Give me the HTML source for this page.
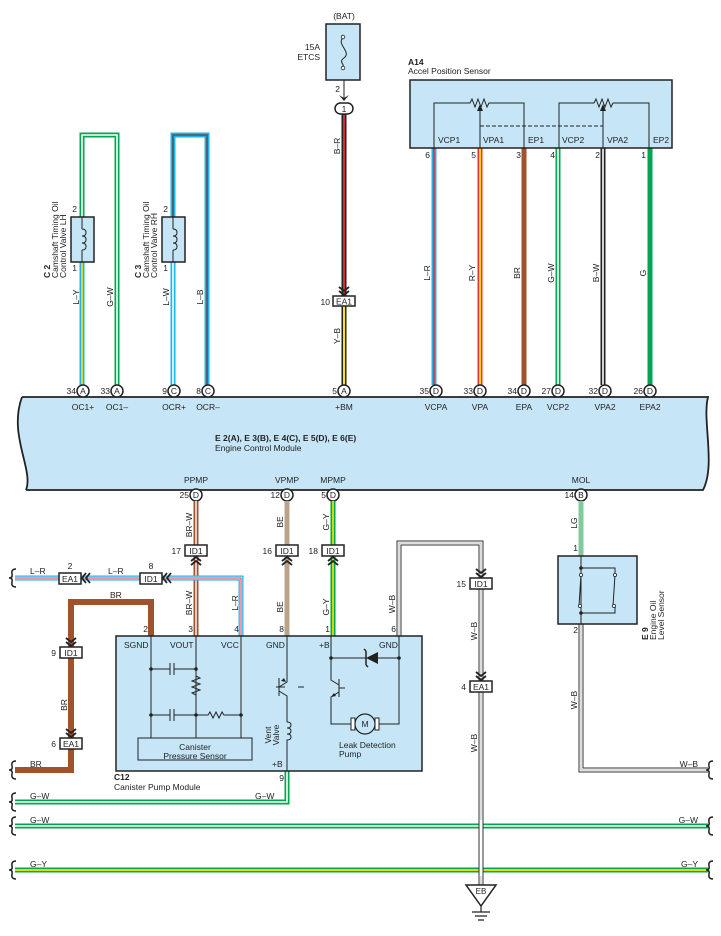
<!DOCTYPE html>
<html><head><meta charset="utf-8"><style>
html,body{margin:0;padding:0;background:#fff;}
svg{display:block;font-family:"Liberation Sans",sans-serif;}
text{font-size:8.5px;fill:#222;}
.b{font-weight:bold;}
.c{text-anchor:middle;}
.r{text-anchor:end;}
</style></head><body>
<svg width="721" height="936" viewBox="0 0 721 936" xmlns="http://www.w3.org/2000/svg">
<defs>
<g id="chD"><path d="M-5,-9 L0,-5 L5,-9 M-5,-5 L0,-1 L5,-5" fill="none" stroke="#222" stroke-width="1.8"/></g>
<g id="chU"><path d="M-5,9 L0,5 L5,9 M-5,5 L0,1 L5,5" fill="none" stroke="#222" stroke-width="1.8"/></g>
<g id="chL"><path d="M9,-5 L5,0 L9,5 M5,-5 L1,0 L5,5" fill="none" stroke="#222" stroke-width="1.8"/></g>
<path id="sq" d="M4,-9 Q-1,-9 0,-4 Q1,0 -3,0 Q1,0 0,4 Q-1,9 4,9" fill="none" stroke="#222" stroke-width="1.5"/>
</defs>

<!-- ===== Top wires ===== -->
<g fill="none" stroke-linejoin="miter">
<!-- C2 loop G-W -->
<polyline points="117,385 117,135 82,135 82,217" stroke="#00a651" stroke-width="5"/>
<polyline points="117,385 117,135 82,135 82,217" stroke="#fff" stroke-width="1.6"/>
<!-- C2 L-Y -->
<line x1="82" y1="262" x2="82" y2="385" stroke="#1fb3ec" stroke-width="5"/>
<line x1="82" y1="262" x2="82" y2="385" stroke="#ffe600" stroke-width="1.6"/>
<!-- C3 loop L-B -->
<polyline points="207,385 207,135 173,135 173,217" stroke="#1fb3ec" stroke-width="5"/>
<polyline points="207,385 207,135 173,135 173,217" stroke="#555" stroke-width="1.6"/>
<!-- C3 L-W -->
<line x1="173" y1="262" x2="173" y2="385" stroke="#1fb3ec" stroke-width="5"/>
<line x1="173" y1="262" x2="173" y2="385" stroke="#fff" stroke-width="1.6"/>
<!-- B-R -->
<line x1="344" y1="113" x2="344" y2="296" stroke="#222" stroke-width="5"/>
<line x1="344" y1="113" x2="344" y2="296" stroke="#e8303a" stroke-width="1.8"/>
<!-- Y-B -->
<line x1="344" y1="306" x2="344" y2="385" stroke="#222" stroke-width="5"/>
<line x1="344" y1="306" x2="344" y2="385" stroke="#ffe600" stroke-width="2"/>
<!-- A14 wires -->
<line x1="434" y1="148" x2="434" y2="385" stroke="#1fb3ec" stroke-width="5"/>
<line x1="434" y1="148" x2="434" y2="385" stroke="#e8303a" stroke-width="1.6"/>
<line x1="480" y1="148" x2="480" y2="385" stroke="#e8303a" stroke-width="5"/>
<line x1="480" y1="148" x2="480" y2="385" stroke="#ffe600" stroke-width="1.8"/>
<line x1="524" y1="148" x2="524" y2="385" stroke="#a0522d" stroke-width="5"/>
<line x1="558" y1="148" x2="558" y2="385" stroke="#00a651" stroke-width="5"/>
<line x1="558" y1="148" x2="558" y2="385" stroke="#fff" stroke-width="1.6"/>
<line x1="603" y1="148" x2="603" y2="385" stroke="#222" stroke-width="5"/>
<line x1="603" y1="148" x2="603" y2="385" stroke="#fff" stroke-width="1.6"/>
<line x1="650" y1="148" x2="650" y2="385" stroke="#00a651" stroke-width="5"/>
</g>

<!-- C2 / C3 coil boxes -->
<g stroke="#222" stroke-width="1.5">
<rect x="71" y="217" width="23" height="45" fill="#c6e6f7"/>
<rect x="162" y="217" width="23" height="45" fill="#c6e6f7"/>
</g>
<g fill="none" stroke="#222" stroke-width="1">
<path d="M82,217 V229 M82,250 V262 M82,229 q4,0 4,3.5 q0,3.5 -4,3.5 q4,0 4,3.5 q0,3.5 -4,3.5 q4,0 4,3.5 q0,3.5 -4,3.5"/>
<path d="M173,217 V229 M173,250 V262 M173,229 q4,0 4,3.5 q0,3.5 -4,3.5 q4,0 4,3.5 q0,3.5 -4,3.5 q4,0 4,3.5 q0,3.5 -4,3.5"/>
</g>
<text x="77" y="212" class="r">2</text><text x="77" y="271" class="r">1</text>
<text x="168" y="212" class="r">2</text><text x="168" y="271" class="r">1</text>
<g transform="translate(50,278) rotate(-90)"><text class="b">C 2</text></g>
<g transform="translate(58,278) rotate(-90)"><text>Camshaft Timing Oil</text></g>
<g transform="translate(66,278) rotate(-90)"><text>Control Valve LH</text></g>
<g transform="translate(141,278) rotate(-90)"><text class="b">C 3</text></g>
<g transform="translate(149,278) rotate(-90)"><text>Camshaft Timing Oil</text></g>
<g transform="translate(157,278) rotate(-90)"><text>Control Valve RH</text></g>
<g transform="translate(79,297) rotate(-90)"><text class="c">L–Y</text></g>
<g transform="translate(113,297) rotate(-90)"><text class="c">G–W</text></g>
<g transform="translate(169,297) rotate(-90)"><text class="c">L–W</text></g>
<g transform="translate(203,297) rotate(-90)"><text class="c">L–B</text></g>

<!-- BAT fuse -->
<text x="344" y="19" class="c">(BAT)</text>
<rect x="326" y="24" width="34" height="56" fill="#c6e6f7" stroke="#222" stroke-width="1.5"/>
<path d="M343,38 C336,44 352,52 344,58 C338,62 345,64 343,67" fill="none" stroke="#222" stroke-width="1"/>
<circle cx="343" cy="37" r="1.8" fill="#fff" stroke="#222" stroke-width="0.8"/>
<circle cx="343" cy="68" r="1.8" fill="#fff" stroke="#222" stroke-width="0.8"/>
<text x="320" y="50" class="r">15A</text><text x="320" y="60" class="r">ETCS</text>
<line x1="344" y1="80" x2="344" y2="100" stroke="#222" stroke-width="1"/>
<path d="M339,95 L344,101 L349,95 L344,98 Z" fill="#222"/>
<text x="340" y="92" class="r">2</text>
<rect x="335" y="103" width="18" height="11" rx="5.5" fill="#fff" stroke="#222" stroke-width="1.5"/>
<text x="344" y="112" class="c">1</text>
<g transform="translate(340,146) rotate(-90)"><text class="c">B–R</text></g>
<use href="#chD" x="344" y="296"/>
<rect x="333" y="296" width="22" height="10" fill="#fff" stroke="#222" stroke-width="1.5"/>
<text x="344" y="304.5" class="c">EA1</text>
<text x="330" y="305" class="r">10</text>
<g transform="translate(340,336) rotate(-90)"><text class="c">Y–B</text></g>

<!-- A14 -->
<text x="408" y="65" class="b">A14</text>
<text x="408" y="74">Accel Position Sensor</text>
<rect x="410" y="80" width="262" height="68" fill="#c6e6f7" stroke="#222" stroke-width="1.5"/>
<g fill="none" stroke="#222" stroke-width="1">
<path d="M434,148 V103 H470 l2,-4 l3,8 l3,-8 l3,8 l3,-8 l3,8 l2,-4 H524 V148"/>
<path d="M480,148 V108"/>
<path d="M559,148 V103 H594 l2,-4 l3,8 l3,-8 l3,8 l3,-8 l3,8 l2,-4 H649 V148"/>
<path d="M603,148 V108"/>
<path d="M480,126 H603" stroke-dasharray="4,2"/>
</g>
<path d="M477,111 L480,104 L483,111 Z M600,111 L603,104 L606,111 Z" fill="#222"/>
<text x="438" y="143">VCP1</text><text x="483" y="143">VPA1</text><text x="528" y="143">EP1</text>
<text x="562" y="143">VCP2</text><text x="607" y="143">VPA2</text><text x="653" y="143">EP2</text>
<text x="430" y="158" class="r">6</text><text x="476" y="158" class="r">5</text><text x="521" y="158" class="r">3</text>
<text x="555" y="158" class="r">4</text><text x="600" y="158" class="r">2</text><text x="646" y="158" class="r">1</text>
<g transform="translate(430,273) rotate(-90)"><text class="c">L–R</text></g>
<g transform="translate(475,273) rotate(-90)"><text class="c">R–Y</text></g>
<g transform="translate(520,273) rotate(-90)"><text class="c">BR</text></g>
<g transform="translate(554,273) rotate(-90)"><text class="c">G–W</text></g>
<g transform="translate(599,273) rotate(-90)"><text class="c">B–W</text></g>
<g transform="translate(646,273) rotate(-90)"><text class="c">G</text></g>

<!-- ECM -->
<path d="M22,397 H708 C702,420 716,465 703,490 H26 C34,470 8,435 22,397 Z" fill="#c6e6f7" stroke="none"/>
<path d="M22,397 H708 C702,420 716,465 703,490 H26 M22,397 C8,435 34,470 26,490" fill="none" stroke="#222" stroke-width="1.8"/>
<g stroke="#222" stroke-width="1.5" fill="#fff">
<circle cx="83" cy="391" r="6"/><circle cx="117" cy="391" r="6"/><circle cx="174" cy="391" r="6"/><circle cx="208" cy="391" r="6"/>
<circle cx="344" cy="391" r="6"/><circle cx="436" cy="391" r="6"/><circle cx="480" cy="391" r="6"/><circle cx="524" cy="391" r="6"/>
<circle cx="558" cy="391" r="6"/><circle cx="605" cy="391" r="6"/><circle cx="650" cy="391" r="6"/>
<circle cx="196" cy="495" r="6"/><circle cx="287" cy="495" r="6"/><circle cx="333" cy="495" r="6"/><circle cx="581" cy="495" r="6"/>
</g>
<g class="c" style="font-size:8px">
<text x="83" y="394" class="c">A</text><text x="117" y="394" class="c">A</text><text x="174" y="394" class="c">C</text><text x="208" y="394" class="c">C</text>
<text x="344" y="394" class="c">A</text><text x="436" y="394" class="c">D</text><text x="480" y="394" class="c">D</text><text x="524" y="394" class="c">D</text>
<text x="558" y="394" class="c">D</text><text x="605" y="394" class="c">D</text><text x="650" y="394" class="c">D</text>
<text x="196" y="498" class="c">D</text><text x="287" y="498" class="c">D</text><text x="333" y="498" class="c">D</text><text x="581" y="498" class="c">B</text>
</g>
<text x="76" y="394" class="r">34</text><text x="110" y="394" class="r">33</text><text x="167" y="394" class="r">9</text><text x="201" y="394" class="r">8</text>
<text x="337" y="394" class="r">5</text><text x="429" y="394" class="r">35</text><text x="473" y="394" class="r">33</text><text x="517" y="394" class="r">34</text>
<text x="551" y="394" class="r">27</text><text x="598" y="394" class="r">32</text><text x="643" y="394" class="r">26</text>
<text x="189" y="498" class="r">25</text><text x="280" y="498" class="r">12</text><text x="326" y="498" class="r">5</text><text x="574" y="498" class="r">14</text>
<text x="83" y="410" class="c">OC1+</text><text x="117" y="410" class="c">OC1–</text><text x="174" y="410" class="c">OCR+</text><text x="208" y="410" class="c">OCR–</text>
<text x="344" y="410" class="c">+BM</text><text x="436" y="410" class="c">VCPA</text><text x="480" y="410" class="c">VPA</text><text x="524" y="410" class="c">EPA</text>
<text x="558" y="410" class="c">VCP2</text><text x="605" y="410" class="c">VPA2</text><text x="650" y="410" class="c">EPA2</text>
<text x="215" y="441" class="b">E 2(A), E 3(B), E 4(C), E 5(D), E 6(E)</text>
<text x="215" y="451">Engine Control Module</text>
<text x="196" y="483" class="c">PPMP</text><text x="287" y="483" class="c">VPMP</text><text x="333" y="483" class="c">MPMP</text><text x="581" y="483" class="c">MOL</text>

<!-- ===== Bottom wires ===== -->
<g fill="none">
<!-- BR-W -->
<line x1="196" y1="501" x2="196" y2="636" stroke="#a0522d" stroke-width="5"/>
<line x1="196" y1="501" x2="196" y2="636" stroke="#fff" stroke-width="1.4"/>
<!-- BE -->
<line x1="287" y1="501" x2="287" y2="636" stroke="#b9a48b" stroke-width="5"/>
<!-- G-Y -->
<line x1="333" y1="501" x2="333" y2="636" stroke="#00a651" stroke-width="5"/>
<line x1="333" y1="501" x2="333" y2="636" stroke="#ffe600" stroke-width="1.6"/>
<!-- L-R -->
<polyline points="241,636 241,578 15,578" stroke="#1fb3ec" stroke-width="5"/>
<polyline points="241,636 241,578 15,578" stroke="#fff" stroke-width="2.4"/>
<polyline points="241,636 241,578 15,578" stroke="#e8303a" stroke-width="1"/>
<!-- BR thick -->
<polyline points="151,636 151,602 71,602 71,770 15,770" stroke="#a0522d" stroke-width="6"/>
<!-- W-B from C12 GND -->
<polyline points="399,636 399,543 481,543 481,885" stroke="#333" stroke-width="5"/>
<polyline points="399,636 399,543 481,543 481,885" stroke="#fff" stroke-width="3"/>
<polyline points="399,636 399,543 481,543 481,885" stroke="#aaa" stroke-width="0.8"/>
<!-- G-W from pin 9 -->
<polyline points="287,771 287,802 15,802" stroke="#00a651" stroke-width="5"/>
<polyline points="287,771 287,802 15,802" stroke="#fff" stroke-width="1.6"/>
<!-- G-W long -->
<line x1="15" y1="826" x2="708" y2="826" stroke="#00a651" stroke-width="5"/>
<line x1="15" y1="826" x2="708" y2="826" stroke="#fff" stroke-width="1.6"/>
<!-- G-Y long -->
<line x1="15" y1="870" x2="708" y2="870" stroke="#00a651" stroke-width="5"/>
<line x1="15" y1="870" x2="708" y2="870" stroke="#ffe600" stroke-width="1.8"/>
<!-- LG -->
<line x1="581" y1="501" x2="581" y2="556" stroke="#7fcc9a" stroke-width="5"/>
<!-- W-B E9 -->
<polyline points="581,624 581,770 708,770" stroke="#333" stroke-width="5"/>
<polyline points="581,624 581,770 708,770" stroke="#fff" stroke-width="3"/>
<polyline points="581,624 581,770 708,770" stroke="#aaa" stroke-width="0.8"/>
</g>
<!-- redraw W-B vertical over horizontal lines -->
<line x1="481" y1="820" x2="481" y2="876" stroke="#333" stroke-width="5"/>
<line x1="481" y1="820" x2="481" y2="876" stroke="#fff" stroke-width="3"/>

<!-- squiggles -->
<use href="#sq" x="12" y="578"/><use href="#sq" x="12" y="770"/><use href="#sq" x="12" y="802"/>
<use href="#sq" x="12" y="826"/><use href="#sq" x="12" y="870"/>
<use href="#sq" x="709" y="770"/><use href="#sq" x="709" y="826"/><use href="#sq" x="709" y="870"/>

<!-- ID1 / EA1 connectors -->
<g stroke="#222" stroke-width="1.5" fill="#fff">
<rect x="185" y="545" width="22" height="11"/><rect x="276" y="545" width="22" height="11"/><rect x="322" y="545" width="22" height="11"/>
<rect x="140" y="573" width="22" height="11"/><rect x="59" y="573" width="22" height="11"/>
<rect x="60" y="647" width="22" height="11"/><rect x="60" y="738" width="22" height="11"/>
<rect x="470" y="578" width="22" height="11"/><rect x="470" y="681" width="22" height="11"/>
</g>
<text x="196" y="554" class="c">ID1</text><text x="287" y="554" class="c">ID1</text><text x="333" y="554" class="c">ID1</text>
<text x="151" y="582" class="c">ID1</text><text x="70" y="582" class="c">EA1</text>
<text x="71" y="656" class="c">ID1</text><text x="71" y="747" class="c">EA1</text>
<text x="481" y="587" class="c">ID1</text><text x="481" y="690" class="c">EA1</text>
<text x="181" y="554" class="r">17</text><text x="272" y="554" class="r">16</text><text x="318" y="554" class="r">18</text>
<text x="151" y="569" class="c">8</text><text x="70" y="569" class="c">2</text>
<text x="56" y="656" class="r">9</text><text x="56" y="747" class="r">6</text>
<text x="466" y="587" class="r">15</text><text x="466" y="690" class="r">4</text>
<use href="#chU" x="196" y="556"/><use href="#chU" x="287" y="556"/><use href="#chU" x="333" y="556"/>
<use href="#chL" x="162" y="578"/><use href="#chL" x="81" y="578"/>
<use href="#chD" x="71" y="647"/><use href="#chD" x="71" y="738"/>
<use href="#chD" x="481" y="578"/><use href="#chD" x="481" y="681"/>

<!-- wire labels bottom -->
<g transform="translate(192,525) rotate(-90)"><text class="c">BR–W</text></g>
<g transform="translate(192,603) rotate(-90)"><text class="c">BR–W</text></g>
<g transform="translate(283,522) rotate(-90)"><text class="c">BE</text></g>
<g transform="translate(283,607) rotate(-90)"><text class="c">BE</text></g>
<g transform="translate(329,522) rotate(-90)"><text class="c">G–Y</text></g>
<g transform="translate(329,607) rotate(-90)"><text class="c">G–Y</text></g>
<g transform="translate(238,603) rotate(-90)"><text class="c">L–R</text></g>
<g transform="translate(395,604) rotate(-90)"><text class="c">W–B</text></g>
<g transform="translate(477,631) rotate(-90)"><text class="c">W–B</text></g>
<g transform="translate(477,743) rotate(-90)"><text class="c">W–B</text></g>
<g transform="translate(67,705) rotate(-90)"><text class="c">BR</text></g>
<g transform="translate(577,523) rotate(-90)"><text class="c">LG</text></g>
<g transform="translate(577,700) rotate(-90)"><text class="c">W–B</text></g>
<text x="30" y="574">L–R</text><text x="108" y="574">L–R</text>
<text x="110" y="598">BR</text><text x="30" y="767">BR</text>
<text x="30" y="799">G–W</text><text x="255" y="799">G–W</text>
<text x="30" y="823">G–W</text><text x="698" y="823" class="r">G–W</text>
<text x="30" y="867">G–Y</text><text x="698" y="867" class="r">G–Y</text>
<text x="698" y="767" class="r">W–B</text>

<!-- C12 -->
<rect x="116" y="636" width="306" height="135" fill="#c6e6f7" stroke="#222" stroke-width="1.5"/>
<text x="148" y="632" class="r">2</text><text x="193" y="632" class="r">3</text><text x="239" y="632" class="r">4</text>
<text x="284" y="632" class="r">8</text><text x="330" y="632" class="r">1</text><text x="396" y="632" class="r">6</text>
<text x="124" y="648">SGND</text><text x="170" y="648">VOUT</text><text x="221" y="648">VCC</text>
<text x="266" y="648">GND</text><text x="319" y="648">+B</text><text x="379" y="648">GND</text>
<g fill="none" stroke="#222" stroke-width="1">
<path d="M151,636 V738 M196,636 V738 M241,636 V738"/>
<path d="M151,669 H170 M174,669 H196 M170,663 V675 M174,663 V675"/>
<path d="M151,715 H170 M174,715 H196 M170,709 V721 M174,709 V721"/>
<path d="M196,676 l4,2 l-8,3 l8,3 l-8,3 l8,3 l-8,3 l4,2"/>
<path d="M196,715 H208 l2,-3 l3,6 l3,-6 l3,6 l3,-6 l2,3 H241"/>
<rect x="138" y="738" width="114" height="22"/>
<!-- vent valve -->
<path d="M287,636 V682 l-8,5 M279,678 V696 M279,691 l8,5 V722 M279,687 H276 M279,687 h6"/>
<path d="M287,722 q4,0 4,3 q0,3 -4,3 q4,0 4,3 q0,3 -4,3 q4,0 4,3 q0,3 -4,3 V771"/>
<!-- leak pump -->
<path d="M331,636 V680 l8,5 M339,679 V697 M339,692 l-8,5 V724 H355 M375,724 H399 V636 M331,658 H399"/>
<path d="M339,688 h6"/>
<path d="M361,658 H361"/>
</g>
<path d="M298,687 h6 M287,687" stroke="#222" stroke-width="1"/>
<path d="M281,681 l3,-3 l2,4 z M331,697 l3,-4 l2,3 z" fill="#222"/>
<!-- diode -->
<path d="M366,658 L378,652 L378,664 Z" fill="#222"/>
<path d="M366,651 V665 M366,651 l-2,-2 M366,665 l2,2" fill="none" stroke="#222" stroke-width="1.5"/>
<circle cx="151" cy="669" r="1.8" fill="#222"/><circle cx="196" cy="669" r="1.8" fill="#222"/>
<circle cx="151" cy="715" r="1.8" fill="#222"/><circle cx="196" cy="715" r="1.8" fill="#222"/><circle cx="241" cy="715" r="1.8" fill="#222"/>
<circle cx="331" cy="658" r="1.8" fill="#222"/><circle cx="399" cy="658" r="1.8" fill="#222"/>
<!-- motor -->
<rect x="351" y="718" width="4" height="12" fill="#fff" stroke="#222" stroke-width="1"/>
<rect x="375" y="718" width="4" height="12" fill="#fff" stroke="#222" stroke-width="1"/>
<circle cx="365" cy="724" r="10" fill="#c6e6f7" stroke="#222" stroke-width="1.2"/>
<text x="365" y="727" class="c">M</text>
<text x="195" y="750" class="c">Canister</text><text x="195" y="759" class="c">Pressure Sensor</text>
<g transform="translate(271,735) rotate(-90)"><text class="c">Vent</text></g>
<g transform="translate(279,735) rotate(-90)"><text class="c">Valve</text></g>
<text x="339" y="748">Leak Detection</text><text x="339" y="757">Pump</text>
<text x="272" y="767">+B</text>
<text x="284" y="781" class="r">9</text>
<text x="114" y="780" class="b">C12</text>
<text x="114" y="790">Canister Pump Module</text>

<!-- E9 -->
<text x="578" y="551" class="r">1</text><text x="578" y="633" class="r">2</text>
<rect x="558" y="556" width="79" height="68" fill="#c6e6f7" stroke="#222" stroke-width="1.5"/>
<g fill="none" stroke="#222" stroke-width="1">
<path d="M581,556 V624 M581,568 H615 V575 M581,613 H615 V606 M581,575 L579,606 M615,575 L613,606"/>
</g>
<circle cx="581" cy="568" r="1.8" fill="#222"/><circle cx="581" cy="613" r="1.8" fill="#222"/>
<g fill="#fff" stroke="#222" stroke-width="0.8">
<circle cx="581" cy="575" r="1.6"/><circle cx="615" cy="575" r="1.6"/><circle cx="580" cy="606" r="1.6"/><circle cx="614" cy="606" r="1.6"/>
</g>
<g transform="translate(648,640) rotate(-90)"><text class="b">E 9</text></g>
<g transform="translate(656,640) rotate(-90)"><text>Engine Oil</text></g>
<g transform="translate(664,640) rotate(-90)"><text>Level Sensor</text></g>

<!-- EB ground -->
<path d="M466,885 H496 L481,906 Z" fill="#fff" stroke="#222" stroke-width="1.5"/>
<text x="481" y="894" class="c" style="font-size:8px">EB</text>
<path d="M481,906 V912 M472,912 H490 M475,916 H487 M478,920 H484" stroke="#222" stroke-width="1.2" fill="none"/>
</svg>
</body></html>
